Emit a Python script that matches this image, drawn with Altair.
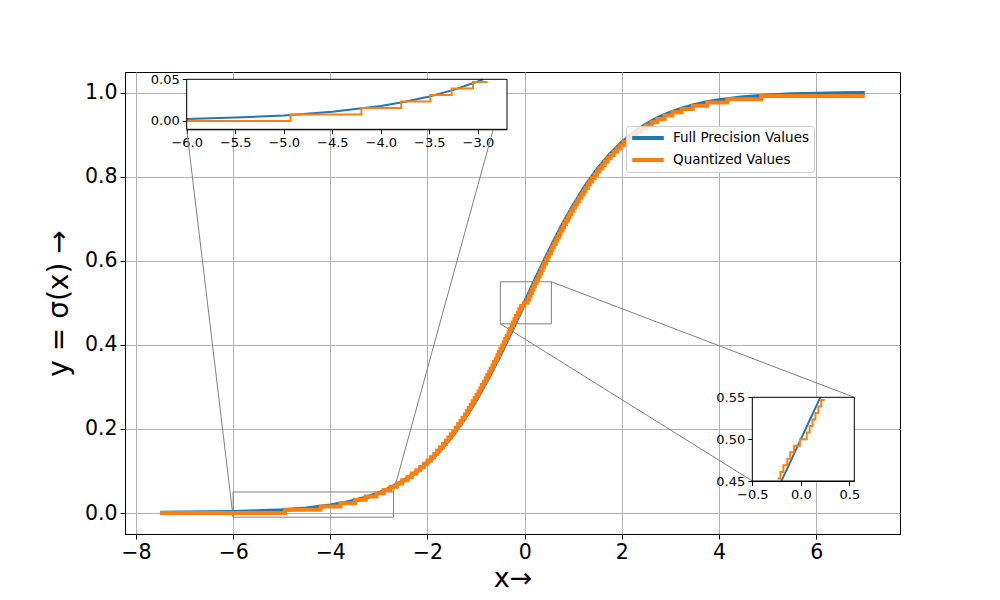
import altair as alt
import pandas as pd

# ---------------- data ----------------
full_x = [-7.5, -7.0, -6.5, -6.0, -5.5, -5.0, -4.5, -4.0, -3.75, -3.5, -3.25, -3.0, -2.95,
          -2.75, -2.5, -2.25, -2.0, -1.75, -1.5, -1.25, -1.0, -0.75, -0.5, -0.25, -0.2,
          -0.1, 0.0, 0.1, 0.2, 0.25, 0.5, 0.75, 1.0, 1.25, 1.5, 1.75, 2.0, 2.25, 2.5,
          2.75, 3.0, 3.25, 3.5, 3.75, 4.0, 4.5, 5.0, 5.5, 6.0, 6.5, 7.0]
full_y = [0.00055, 0.00091, 0.00150, 0.00247, 0.00407, 0.00669, 0.01099, 0.01799, 0.02298,
          0.02931, 0.03732, 0.04743, 0.04974, 0.06009, 0.07586, 0.09535, 0.11920, 0.14805,
          0.18243, 0.22270, 0.26894, 0.32082, 0.37754, 0.43782, 0.45017, 0.47502, 0.5,
          0.52498, 0.54983, 0.56218, 0.62246, 0.67918, 0.73106, 0.77730, 0.81757, 0.85195,
          0.88080, 0.90465, 0.92414, 0.93991, 0.95257, 0.96268, 0.97069, 0.97702, 0.98201,
          0.98901, 0.99331, 0.99593, 0.99753, 0.99850, 0.99909]

# quantized staircase: x where each level starts, and the level values
q_start = [-7.5, -4.93, -4.20, -3.79, -3.49, -3.27, -3.05, -2.90, -2.76, -2.63,
           -2.52, -2.41, -2.32, -2.23, -2.15, -2.07, -2.00, -1.93, -1.86, -1.80,
           -1.74, -1.68, -1.62, -1.57, -1.52, -1.47, -1.42, -1.37, -1.32, -1.28,
           -1.23, -1.19, -1.15, -1.11, -1.07, -1.03, -0.99, -0.95, -0.91, -0.88,
           -0.84, -0.80, -0.77, -0.73, -0.70, -0.66, -0.63, -0.59, -0.56, -0.53,
           -0.50, -0.46, -0.43, -0.40, -0.37, -0.33, -0.30, -0.27, -0.24, -0.21,
           -0.18, -0.14, -0.11, -0.07, -0.01, 0.06, 0.09, 0.12, 0.15, 0.18,
           0.21, 0.245, 0.28, 0.31, 0.34, 0.37, 0.40, 0.44, 0.47, 0.50,
           0.54, 0.57, 0.60, 0.64, 0.67, 0.71, 0.74, 0.78, 0.81, 0.85,
           0.89, 0.92, 0.96, 1.00, 1.04, 1.08, 1.12, 1.17, 1.21, 1.25,
           1.30, 1.34, 1.39, 1.44, 1.49, 1.54, 1.60, 1.65, 1.71, 1.77,
           1.83, 1.90, 1.97, 2.04, 2.12, 2.21, 2.29, 2.39, 2.49, 2.61,
           2.73, 2.88, 3.04, 3.23, 3.46, 3.76, 4.17, 4.87]
q_level = [0.0, 0.0078, 0.0156, 0.0234, 0.0313, 0.0391, 0.0469, 0.0547,
           0.0625, 0.0703, 0.0781, 0.0859, 0.0938, 0.1016, 0.1094, 0.1172,
           0.125, 0.1328, 0.1406, 0.1484, 0.1563, 0.1641, 0.1719, 0.1797,
           0.1875, 0.1953, 0.2031, 0.2109, 0.2188, 0.2266, 0.2344, 0.2422,
           0.25, 0.2578, 0.2656, 0.2734, 0.2813, 0.2891, 0.2969, 0.3047,
           0.3125, 0.3203, 0.3281, 0.3359, 0.3438, 0.3516, 0.3594, 0.3672,
           0.375, 0.3828, 0.3906, 0.3984, 0.4063, 0.4141, 0.4219, 0.4297,
           0.4375, 0.4453, 0.4531, 0.4609, 0.4688, 0.4766, 0.4844, 0.4922,
           0.5, 0.5078, 0.5156, 0.5234, 0.5313, 0.5391, 0.5469, 0.5547,
           0.5625, 0.5703, 0.5781, 0.5859, 0.5938, 0.6016, 0.6094, 0.6172,
           0.625, 0.6328, 0.6406, 0.6484, 0.6563, 0.6641, 0.6719, 0.6797,
           0.6875, 0.6953, 0.7031, 0.7109, 0.7188, 0.7266, 0.7344, 0.7422,
           0.75, 0.7578, 0.7656, 0.7734, 0.7813, 0.7891, 0.7969, 0.8047,
           0.8125, 0.8203, 0.8281, 0.8359, 0.8438, 0.8516, 0.8594, 0.8672,
           0.875, 0.8828, 0.8906, 0.8984, 0.9063, 0.9141, 0.9219, 0.9297,
           0.9375, 0.9453, 0.9531, 0.9609, 0.9688, 0.9766, 0.9844, 0.9922]
q_end = 7.0

series_names = ["Full Precision Values", "Quantized Values"]
series_colors = ["#1f77b4", "#ff7f0e"]

main_x_ticks = [-8, -6, -4, -2, 0, 2, 4, 6]
main_y_ticks = [0.0, 0.2, 0.4, 0.6, 0.8, 1.0]
in1_x_ticks = [-6.0, -5.5, -5.0, -4.5, -4.0, -3.5, -3.0]
in1_y_ticks = [0.0, 0.05]
in2_x_ticks = [-0.5, 0.0, 0.5]
in2_y_ticks = [0.45, 0.5, 0.55]

in1_xdom = [-6.0, -2.7]
in1_ydom = [-0.01, 0.05]
in2_xdom = [-0.5, 0.55]
in2_ydom = [0.45, 0.55]

# ---------------- layout ----------------
W, H = 775, 462
XDOM = [-8.225, 7.725]
YDOM = [-0.04995, 1.04904]
IN1 = dict(left=61.7, right=382.0, top=7.3, bottom=57.3)
IN2 = dict(left=627.3, right=729.3, top=325.3, bottom=409.0)
FONT = "DejaVu Sans"
GRAY = "#808080"

# ---------------- tables ----------------
full_df = pd.DataFrame({"x": full_x, "y": full_y, "i": list(range(len(full_x))),
                        "series": series_names[0]})
qx, qy = [q_start[0]], [q_level[0]]
for k in range(1, len(q_start)):
    qx += [q_start[k], q_start[k]]
    qy += [q_level[k - 1], q_level[k]]
qx.append(q_end)
qy.append(q_level[-1])
q_df = pd.DataFrame({"x": qx, "y": qy, "i": list(range(len(qx))), "series": series_names[1]})


def mscale_x():
    return alt.Scale(domain=XDOM, nice=False, zero=False)


def mscale_y():
    return alt.Scale(domain=YDOM, nice=False, zero=False)


def iscale(dom, rng, clamp=False):
    return alt.Scale(domain=dom, range=rng, nice=False, zero=False, clamp=clamp)


color_enc = alt.Color(
    "series:N",
    scale=alt.Scale(domain=series_names, range=series_colors),
    legend=alt.Legend(
        title=None, orient="none", legendX=501, legendY=54, direction="vertical",
        symbolType="stroke", symbolStrokeWidth=4, symbolSize=1000,
        labelFont=FONT, labelFontSize=13.5, labelColor="black", labelOffset=7,
        clipHeight=16, rowPadding=6, padding=4,
        fillColor="rgba(255,255,255,0.8)", strokeColor="#cccccc", cornerRadius=3,
    ),
)

main_x_axis = alt.Axis(
    values=main_x_ticks, format="d", grid=True, gridColor="#b0b0b0", gridWidth=1,
    domainColor="black", tickColor="black", tickSize=5, tickWidth=1,
    labelFont=FONT, labelFontSize=20.5, labelColor="black", labelPadding=3,
    labelFlush=False, labelOverlap=False,
    title="x→", titleFont=FONT, titleFontSize=27, titleFontWeight="normal",
    titleColor="black", titleX=W / 2, titleY=44, titleBaseline="middle", titleAlign="center",
)
main_y_axis = alt.Axis(
    values=main_y_ticks, format=".1f", grid=True, gridColor="#b0b0b0", gridWidth=1,
    domainColor="black", tickColor="black", tickSize=5, tickWidth=1,
    labelFont=FONT, labelFontSize=20.5, labelColor="black", labelPadding=3,
    labelFlush=False, labelOverlap=False,
    title="y = σ(x) →", titleFont=FONT, titleFontSize=28, titleFontWeight="normal",
    titleColor="black", titleX=-65.5, titleY=H / 2, titleAngle=-90,
    titleBaseline="middle", titleAlign="center",
)

# main curves
blue = alt.Chart(full_df).mark_line(strokeWidth=4).encode(
    x=alt.X("x:Q", scale=mscale_x(), axis=main_x_axis),
    y=alt.Y("y:Q", scale=mscale_y(), axis=main_y_axis),
    order=alt.Order("i:Q"),
    color=color_enc,
)
orange = alt.Chart(q_df).mark_line(strokeWidth=4).encode(
    x=alt.X("x:Q", scale=mscale_x(), axis=None),
    y=alt.Y("y:Q", scale=mscale_y(), axis=None),
    order=alt.Order("i:Q"),
    color=color_enc,
)

# zoom indicator rectangles
ind_df = pd.DataFrame({
    "x0": [in1_xdom[0], in2_xdom[0]], "x1": [in1_xdom[1], in2_xdom[1]],
    "y0": [in1_ydom[0], in2_ydom[0]], "y1": [in1_ydom[1], in2_ydom[1]],
})
indicators = alt.Chart(ind_df).mark_rect(fillOpacity=0, stroke=GRAY, strokeWidth=1).encode(
    x=alt.X("x0:Q", scale=mscale_x(), axis=None), x2="x1:Q",
    y=alt.Y("y0:Q", scale=mscale_y(), axis=None), y2="y1:Q",
)


def connector(xd, yd, px, py):
    df = pd.DataFrame({"x": [xd], "y": [yd]})
    return alt.Chart(df).mark_rule(color=GRAY, strokeWidth=1).encode(
        x=alt.X("x:Q", scale=mscale_x(), axis=None),
        y=alt.Y("y:Q", scale=mscale_y(), axis=None),
        x2=alt.value(px), y2=alt.value(py),
    )


connectors = [
    connector(in1_xdom[0], in1_ydom[0], IN1["left"], IN1["bottom"]),
    connector(in1_xdom[1], in1_ydom[1], IN1["right"], IN1["top"]),
    connector(in2_xdom[0], in2_ydom[0], IN2["left"], IN2["bottom"]),
    connector(in2_xdom[1], in2_ydom[1], IN2["right"], IN2["top"]),
]


def inset_layers(box, xdom, ydom, xticks, yticks, xfmt, yfmt, full_filter, q_filter, clampx):
    def sx():
        return iscale(xdom, [box["left"], box["right"]], clamp=clampx)

    def sy():
        return iscale(ydom, [box["bottom"], box["top"]])

    common_axis = dict(
        grid=False, domainColor="black", tickColor="black", tickSize=4.5, tickWidth=1,
        labelFont=FONT, labelFontSize=13, labelColor="black", labelPadding=3,
        labelFlush=False, labelOverlap=False, title=None,
    )
    xaxis = alt.Axis(orient="bottom", offset=box["bottom"] - H, values=xticks, format=xfmt,
                     **common_axis)
    yaxis = alt.Axis(orient="left", offset=-box["left"], values=yticks, format=yfmt,
                     **common_axis)
    box_df = pd.DataFrame({"x0": [xdom[0]], "x1": [xdom[1]], "y0": [ydom[0]], "y1": [ydom[1]]})
    bg = alt.Chart(box_df).mark_rect(fill="white", strokeWidth=0).encode(
        x=alt.X("x0:Q", scale=sx(), axis=xaxis), x2="x1:Q",
        y=alt.Y("y0:Q", scale=sy(), axis=yaxis), y2="y1:Q",
    )
    fl = alt.Chart(full_df).transform_filter(full_filter).mark_line(
        strokeWidth=2, color=series_colors[0]).encode(
        x=alt.X("x:Q", scale=sx(), axis=None),
        y=alt.Y("y:Q", scale=sy(), axis=None),
        order=alt.Order("i:Q"),
    )
    ql = alt.Chart(q_df).transform_filter(q_filter).mark_line(
        strokeWidth=2, color=series_colors[1]).encode(
        x=alt.X("x:Q", scale=sx(), axis=None),
        y=alt.Y("y:Q", scale=sy(), axis=None),
        order=alt.Order("i:Q"),
    )
    frame = alt.Chart(box_df).mark_rect(fillOpacity=0, stroke="black", strokeWidth=1).encode(
        x=alt.X("x0:Q", scale=sx(), axis=None), x2="x1:Q",
        y=alt.Y("y0:Q", scale=sy(), axis=None), y2="y1:Q",
    )
    return [bg, fl, ql, frame]


inset1 = inset_layers(
    IN1, in1_xdom, in1_ydom, in1_x_ticks, in1_y_ticks, ".1f", ".2f",
    (alt.datum.x >= in1_xdom[0]) & (alt.datum.y <= in1_ydom[1]),
    (alt.datum.y <= in1_ydom[1]),
    True,
)
inset2 = inset_layers(
    IN2, in2_xdom, in2_ydom, in2_x_ticks, in2_y_ticks, ".1f", ".2f",
    (alt.datum.y >= in2_ydom[0]) & (alt.datum.y <= in2_ydom[1]),
    (alt.datum.y >= in2_ydom[0]) & (alt.datum.y <= in2_ydom[1]),
    False,
)

chart = alt.layer(
    indicators, *connectors, blue, orange, *inset1, *inset2
).resolve_scale(
    x="independent", y="independent"
).properties(
    width=W, height=H,
    autosize=alt.AutoSizeParams(type="none"),
    padding={"left": 117, "top": 64, "right": 85, "bottom": 58},
).configure(
    font=FONT, background="white",
    view=alt.ViewConfig(stroke="black", strokeWidth=1),
)

chart.save("out.html", embed_options={"renderer": "svg", "actions": False})
